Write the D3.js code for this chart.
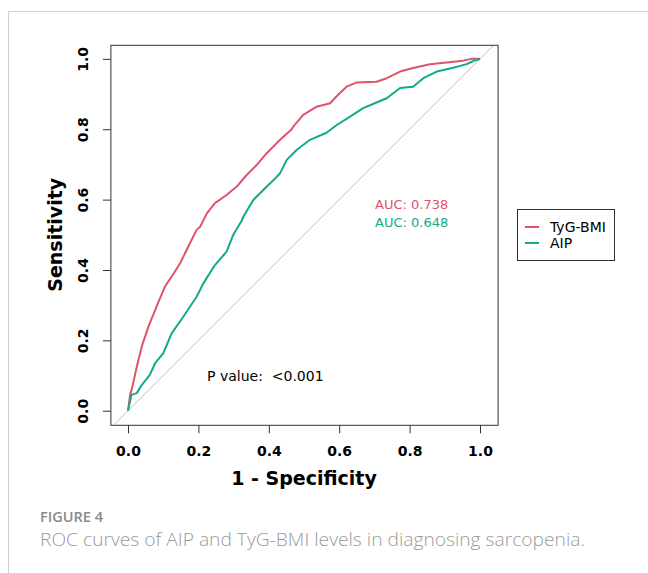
<!DOCTYPE html>
<html>
<head>
<meta charset="utf-8">
<script src="https://cdn.jsdelivr.net/npm/d3@7"></script>
<style>
body { margin: 0; background: #fff; }
svg { display: block; }
</style>
</head>
<body>
<div id="chart"></div>
<script>
var width = 648,
    height = 573;

// ROC points: [1 - specificity, sensitivity]
var tygbmi_fpr = [0, 0.006, 0.0105, 0.025, 0.039, 0.058, 0.081, 0.105, 0.124, 0.148, 0.171, 0.195, 0.205, 0.224, 0.247, 0.28, 0.309, 0.337, 0.366, 0.394, 0.432, 0.465, 0.47, 0.498, 0.536, 0.574, 0.597, 0.621, 0.65, 0.706, 0.735, 0.773, 0.81, 0.858, 0.905, 0.952, 0.976, 1];
var tygbmi_tpr = [0, 0.045, 0.06, 0.125, 0.182, 0.239, 0.296, 0.353, 0.381, 0.419, 0.466, 0.514, 0.523, 0.561, 0.59, 0.613, 0.637, 0.67, 0.699, 0.732, 0.77, 0.8, 0.808, 0.841, 0.864, 0.874, 0.898, 0.921, 0.933, 0.935, 0.945, 0.964, 0.974, 0.985, 0.99, 0.995, 1, 1];

var aip_fpr = [0, 0.01, 0.025, 0.039, 0.062, 0.077, 0.1, 0.124, 0.157, 0.195, 0.214, 0.247, 0.28, 0.299, 0.323, 0.328, 0.356, 0.385, 0.418, 0.432, 0.451, 0.479, 0.517, 0.564, 0.593, 0.631, 0.668, 0.706, 0.735, 0.773, 0.81, 0.839, 0.877, 0.924, 0.962, 0.981, 1];
var aip_tpr = [0, 0.045, 0.05, 0.073, 0.102, 0.135, 0.163, 0.22, 0.267, 0.324, 0.362, 0.414, 0.452, 0.5, 0.54, 0.552, 0.599, 0.628, 0.66, 0.675, 0.713, 0.741, 0.77, 0.79, 0.812, 0.836, 0.86, 0.876, 0.888, 0.917, 0.921, 0.945, 0.964, 0.975, 0.985, 0.994, 1];

var series_names = ["TyG-BMI", "AIP"],
    series_colors = ["#df536b", "#13a98b"],
    auc_labels = ["AUC: 0.738", "AUC: 0.648"],
    p_label = "P value:  <0.001",
    tick_values = [0, 0.2, 0.4, 0.6, 0.8, 1.0];

var svg = d3.select("#chart")
    .append("svg")
    .attr("width", width)
    .attr("height", height);

// page frame
svg.append("path")
    .attr("d", "M8.5,573V11.5H648")
    .attr("fill", "none")
    .attr("stroke", "#cfcfcf");

var x = d3.scaleLinear().domain([-0.05, 1.05]).range([110.4, 497.6]),
    y = d3.scaleLinear().domain([-0.04, 1.04]).range([424.8, 44.8]);

svg.append("clipPath").attr("id", "plotclip")
    .append("rect")
    .attr("x", x(-0.05)).attr("y", y(1.04))
    .attr("width", x(1.05) - x(-0.05)).attr("height", y(-0.04) - y(1.04));

// diagonal reference line
svg.append("line")
    .attr("clip-path", "url(#plotclip)")
    .attr("x1", x(-0.1)).attr("y1", y(-0.1))
    .attr("x2", x(1.1)).attr("y2", y(1.1))
    .attr("stroke", "#bdbdbd")
    .attr("stroke-width", 1);

var line = d3.line()
    .x(function(d){ return x(d[0]); })
    .y(function(d){ return y(d[1]); });

var curves = [d3.zip(tygbmi_fpr, tygbmi_tpr), d3.zip(aip_fpr, aip_tpr)];

svg.selectAll(".roc")
    .data(curves)
    .enter()
    .append("path")
    .attr("class", "roc")
    .attr("d", line)
    .attr("fill", "none")
    .attr("stroke", function(d, i){ return series_colors[i]; })
    .attr("stroke-width", 2)
    .attr("stroke-linejoin", "round");

// plot box
svg.append("rect")
    .attr("x", x(-0.05) + 0.5).attr("y", y(1.04) + 0.5)
    .attr("width", x(1.05) - x(-0.05)).attr("height", y(-0.04) - y(1.04))
    .attr("fill", "none")
    .attr("stroke", "#333");

var fmt = d3.format(".1f");

var xaxis = svg.append("g")
    .attr("transform", "translate(0," + (y(-0.04) + 0.5) + ")")
    .call(d3.axisBottom(x).tickValues(tick_values).tickFormat(fmt).tickSize(8).tickSizeOuter(0).tickPadding(13));

var yaxis = svg.append("g")
    .attr("transform", "translate(" + (x(-0.05) + 0.5) + ",0)")
    .call(d3.axisLeft(y).tickValues(tick_values).tickFormat(fmt).tickSize(8).tickSizeOuter(0));

[xaxis, yaxis].forEach(function(g){
    g.select(".domain").remove();
    g.selectAll(".tick line").attr("stroke", "#333");
    g.selectAll(".tick text")
        .attr("fill", "#000")
        .style("font-family", "DejaVu Sans")
        .style("font-weight", "bold")
        .style("font-size", "14px");
});

yaxis.selectAll(".tick text")
    .attr("x", null).attr("dy", null)
    .attr("text-anchor", "middle")
    .attr("transform", "translate(-28,0) rotate(-90)")
    .attr("y", 0)
    .attr("dy", "0.35em");

svg.append("text")
    .attr("x", (x(0) + x(1)) / 2)
    .attr("y", 485)
    .attr("text-anchor", "middle")
    .style("font-family", "DejaVu Sans")
    .style("font-weight", "bold")
    .style("font-size", "19px")
    .text("1 - Specificity");

svg.append("text")
    .attr("transform", "translate(62," + ((y(0) + y(1)) / 2) + ") rotate(-90)")
    .attr("text-anchor", "middle")
    .style("font-family", "DejaVu Sans")
    .style("font-weight", "bold")
    .style("font-size", "19px")
    .text("Sensitivity");

// AUC labels
svg.selectAll(".auc")
    .data(auc_labels)
    .enter()
    .append("text")
    .attr("class", "auc")
    .attr("x", 375)
    .attr("y", function(d, i){ return 209 + i * 18; })
    .attr("fill", function(d, i){ return series_colors[i]; })
    .style("font-family", "DejaVu Sans")
    .style("font-size", "13px")
    .text(function(d){ return d; });

svg.append("text")
    .attr("x", 207)
    .attr("y", 381)
    .style("font-family", "DejaVu Sans")
    .style("font-size", "14px")
    .style("white-space", "pre")
    .text(p_label);

// legend
var legend = svg.append("g").attr("transform", "translate(517,209)");
legend.append("rect")
    .attr("x", 0.5).attr("y", 0.5)
    .attr("width", 97).attr("height", 51)
    .attr("fill", "#fff")
    .attr("stroke", "#333");

var items = legend.selectAll(".item")
    .data(series_names)
    .enter()
    .append("g")
    .attr("class", "item")
    .attr("transform", function(d, i){ return "translate(0," + (18 + i * 16) + ")"; });

items.append("line")
    .attr("x1", 8).attr("x2", 22)
    .attr("stroke", function(d, i){ return series_colors[i]; })
    .attr("stroke-width", 2);

items.append("text")
    .attr("x", 33)
    .attr("dy", "0.35em")
    .style("font-family", "DejaVu Sans")
    .style("font-size", "14px")
    .text(function(d){ return d; });

// caption
svg.append("text")
    .attr("x", 40)
    .attr("y", 522)
    .attr("fill", "#8a8a8a")
    .attr("textLength", 63)
    .attr("lengthAdjust", "spacingAndGlyphs")
    .style("font-family", "Open Sans")
    .style("font-size", "13.5px")
    .style("font-weight", "600")
    .text("FIGURE 4");

svg.append("text")
    .attr("x", 40)
    .attr("y", 546)
    .attr("fill", "#9a9a9a")
    .attr("textLength", 545)
    .attr("lengthAdjust", "spacingAndGlyphs")
    .style("font-family", "Open Sans")
    .style("font-size", "18.5px")
    .style("font-weight", "300")
    .text("ROC curves of AIP and TyG-BMI levels in diagnosing sarcopenia.");
</script>
</body>
</html>
